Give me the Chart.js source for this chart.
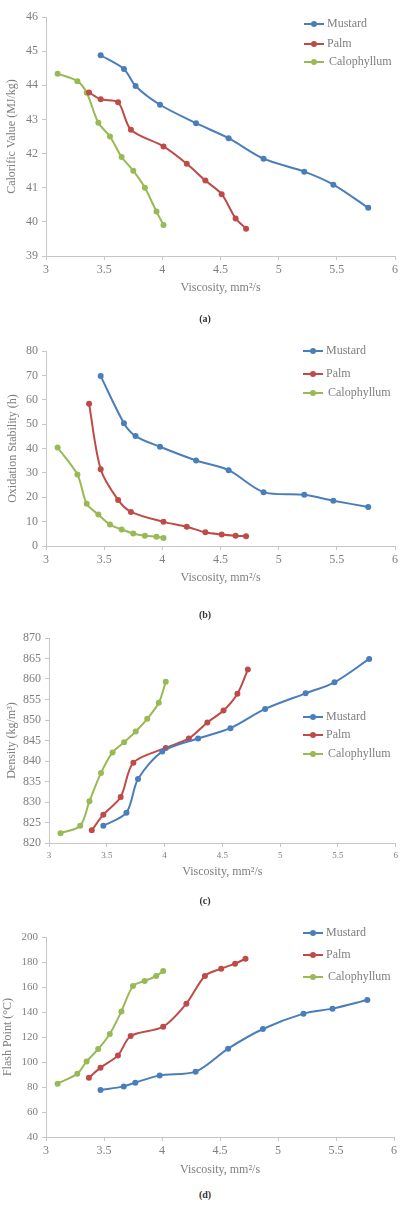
<!DOCTYPE html>
<html>
<head>
<meta charset="utf-8">
<script src="https://cdn.jsdelivr.net/npm/chart.js@4.4.0/dist/chart.umd.min.js"></script>
<style>
  body { margin: 0; background: #fff; width: 401px; height: 1207px; position: relative; overflow: hidden; font-family: "Liberation Serif", serif; }
  canvas { position: absolute; left: 0; }
  .cap { position: absolute; left: 0; width: 410px; text-align: center; font-weight: bold; font-size: 10px; line-height: 12px; color: #333; }
</style>
</head>
<body>
<canvas id="chartA" width="401" height="300" style="top:0px"></canvas>
<canvas id="chartB" width="401" height="280" style="top:320px"></canvas>
<canvas id="chartC" width="401" height="280" style="top:620px"></canvas>
<canvas id="chartD" width="401" height="270" style="top:910px"></canvas>
<div class="cap" style="top:313px">(a)</div>
<div class="cap" style="top:609px">(b)</div>
<div class="cap" style="top:895px">(c)</div>
<div class="cap" style="top:1189px">(d)</div>
<script>
// ---- data ----
const seriesNames = ['Mustard', 'Palm', 'Calophyllum'];
const seriesColors = ['#4A7EBB', '#BE4B48', '#98B954'];

// viscosity (x) for each oil, mm2/s
const mustardVisc = [3.47, 3.67, 3.77, 3.98, 4.29, 4.57, 4.87, 5.22, 5.47, 5.77];
const palmVisc    = [3.37, 3.47, 3.62, 3.73, 4.01, 4.21, 4.37, 4.51, 4.63, 4.72];
const caloVisc    = [3.10, 3.27, 3.35, 3.45, 3.55, 3.65, 3.75, 3.85, 3.95, 4.01];

// (a) calorific value, MJ/kg
const cvMustard = [44.88, 44.48, 43.98, 43.43, 42.89, 42.45, 41.85, 41.47, 41.09, 40.41];
const cvPalm    = [43.79, 43.59, 43.50, 42.70, 42.21, 41.70, 41.21, 40.81, 40.10, 39.80];
const cvCalo    = [44.34, 44.12, 43.78, 42.90, 42.50, 41.90, 41.50, 41.00, 40.30, 39.91];

// (b) oxidation stability, h
const osMustard = [69.7, 50.4, 45.1, 40.7, 35.1, 31.1, 22.1, 21.0, 18.6, 16.0];
const osPalm    = [58.4, 31.5, 18.9, 14.0, 9.9, 7.9, 5.6, 4.7, 4.2, 4.0];
const osCalo    = [40.4, 29.3, 17.3, 12.9, 8.8, 6.8, 5.1, 4.2, 3.8, 3.3];

// (c) density, kg/m3
const dnMustard = [824.2, 827.4, 835.6, 842.3, 845.5, 848.0, 852.7, 856.5, 859.2, 864.9];
const dnPalm    = [823.1, 826.9, 831.2, 839.6, 843.2, 845.5, 849.4, 852.3, 856.4, 862.3];
const dnCalo    = [822.4, 824.2, 830.2, 837.1, 842.1, 844.6, 847.2, 850.3, 854.2, 859.3];

// (d) flash point, deg C
const fpMustard = [77.6, 80.5, 83.5, 89.3, 92.3, 110.7, 126.4, 138.7, 142.7, 149.6];
const fpPalm    = [87.5, 95.5, 105.3, 120.8, 128.3, 146.7, 168.8, 174.7, 178.7, 182.7];
const fpCalo    = [82.7, 90.7, 100.5, 110.4, 122.4, 140.5, 160.8, 164.8, 168.8, 172.8];

const viscTicks = [3, 3.5, 4, 4.5, 5, 5.5, 6];

// ---- helpers ----
const textGray = '#7f7f7f';
const axisGray = '#c6c6c6';

function pairs(xs, ys) {
  return xs.map((x, i) => ({ x: x, y: ys[i] }));
}

// legend drawn inside the plot, like the Excel original
const insideLegend = {
  id: 'insideLegend',
  afterDraw(chart, args, opts) {
    const ctx = chart.ctx;
    ctx.save();
    ctx.font = '12px "Liberation Serif"';
    ctx.textBaseline = 'middle';
    chart.data.datasets.forEach((ds, i) => {
      const y = opts.rows[i];
      ctx.strokeStyle = ds.borderColor;
      ctx.lineWidth = 2;
      ctx.beginPath();
      ctx.moveTo(opts.x, y);
      ctx.lineTo(opts.x + 20, y);
      ctx.stroke();
      ctx.fillStyle = ds.borderColor;
      ctx.beginPath();
      ctx.arc(opts.x + 10, y, 3, 0, Math.PI * 2);
      ctx.fill();
      ctx.fillStyle = textGray;
      ctx.fillText(ds.label, opts.x + 23 + (i === 2 ? 2 : 0), y);
    });
    ctx.restore();
  }
};

function makePanel(id, p) {
  const ysets = p.ys;
  const xsets = [mustardVisc, palmVisc, caloVisc];
  new Chart(document.getElementById(id), {
    type: 'line',
    data: {
      datasets: seriesNames.map((name, i) => ({
        label: name,
        data: pairs(xsets[i], ysets[i]),
        borderColor: seriesColors[i],
        backgroundColor: seriesColors[i],
        borderWidth: 2,
        pointRadius: 3,
        pointBorderWidth: 0,
        tension: 0.3
      }))
    },
    plugins: [insideLegend],
    options: {
      responsive: false,
      animation: false,
      layout: { padding: { top: p.padTop, right: p.padRight, bottom: 0, left: 0 } },
      plugins: {
        legend: { display: false },
        tooltip: { enabled: false },
        insideLegend: { x: p.legX, rows: p.legRows }
      },
      scales: {
        x: {
          type: 'linear', min: 3, max: 6,
          afterBuildTicks: s => { s.ticks = viscTicks.map(v => ({ value: v })); },
          afterFit: s => { s.height = p.xHeight; },
          grid: { drawOnChartArea: false, drawTicks: true, tickLength: 4, color: axisGray },
          border: { color: axisGray, width: 1 },
          ticks: { color: textGray, font: { family: 'Liberation Serif', size: p.xTickSize }, padding: 3,
                   maxRotation: 0, autoSkip: false, callback: v => String(v) },
          title: { display: true, text: 'Viscosity, mm²/s', color: textGray,
                   font: { family: 'Liberation Serif', size: 12 }, padding: { top: 0, bottom: p.xTitlePad } }
        },
        y: {
          min: p.yMin, max: p.yMax,
          afterBuildTicks: s => { s.ticks = p.yTicks.map(v => ({ value: v })); },
          afterFit: s => { s.width = p.yWidth; },
          grid: { drawOnChartArea: false, drawTicks: true, tickLength: 4, color: axisGray },
          border: { color: axisGray, width: 1 },
          ticks: { color: textGray, font: { family: 'Liberation Serif', size: p.yTickSize }, padding: 4,
                   callback: v => String(v) },
          title: { display: true, text: p.yTitle, color: textGray,
                   font: { family: 'Liberation Serif', size: 12 }, padding: { top: p.yTitlePad, bottom: 0 } }
        }
      }
    }
  });
}

makePanel('chartA', {
  ys: [cvMustard, cvPalm, cvCalo],
  yMin: 39, yMax: 46, yTicks: [39, 40, 41, 42, 43, 44, 45, 46],
  yTitle: 'Calorific Value (MJ/kg)',
  padTop: 17, padRight: 5, xHeight: 44, yWidth: 46,
  xTitlePad: 5, yTitlePad: 5, xTickSize: 12, yTickSize: 12,
  legX: 304, legRows: [24, 44, 62]
});

makePanel('chartB', {
  ys: [osMustard, osPalm, osCalo],
  yMin: 0, yMax: 80, yTicks: [0, 10, 20, 30, 40, 50, 60, 70, 80],
  yTitle: 'Oxidation Stability (h)',
  padTop: 31, padRight: 5, xHeight: 54, yWidth: 46,
  xTitlePad: 15, yTitlePad: 6, xTickSize: 12, yTickSize: 12,
  legX: 303, legRows: [31, 54, 73]
});

makePanel('chartC', {
  ys: [dnMustard, dnPalm, dnCalo],
  yMin: 820, yMax: 870, yTicks: [820, 825, 830, 835, 840, 845, 850, 855, 860, 865, 870],
  yTitle: 'Density (kg/m³)',
  padTop: 18, padRight: 5, xHeight: 57, yWidth: 49,
  xTitlePad: 21, yTitlePad: 5, xTickSize: 9, yTickSize: 12,
  legX: 303, legRows: [97, 115, 134]
});

makePanel('chartD', {
  ys: [fpMustard, fpPalm, fpCalo],
  yMin: 40, yMax: 200, yTicks: [40, 60, 80, 100, 120, 140, 160, 180, 200],
  yTitle: 'Flash Point (°C)',
  padTop: 27, padRight: 7, xHeight: 43, yWidth: 46,
  xTitlePad: 3, yTitlePad: 1, xTickSize: 12, yTickSize: 11,
  legX: 303, legRows: [23, 45, 67]
});
</script>
</body>
</html>
